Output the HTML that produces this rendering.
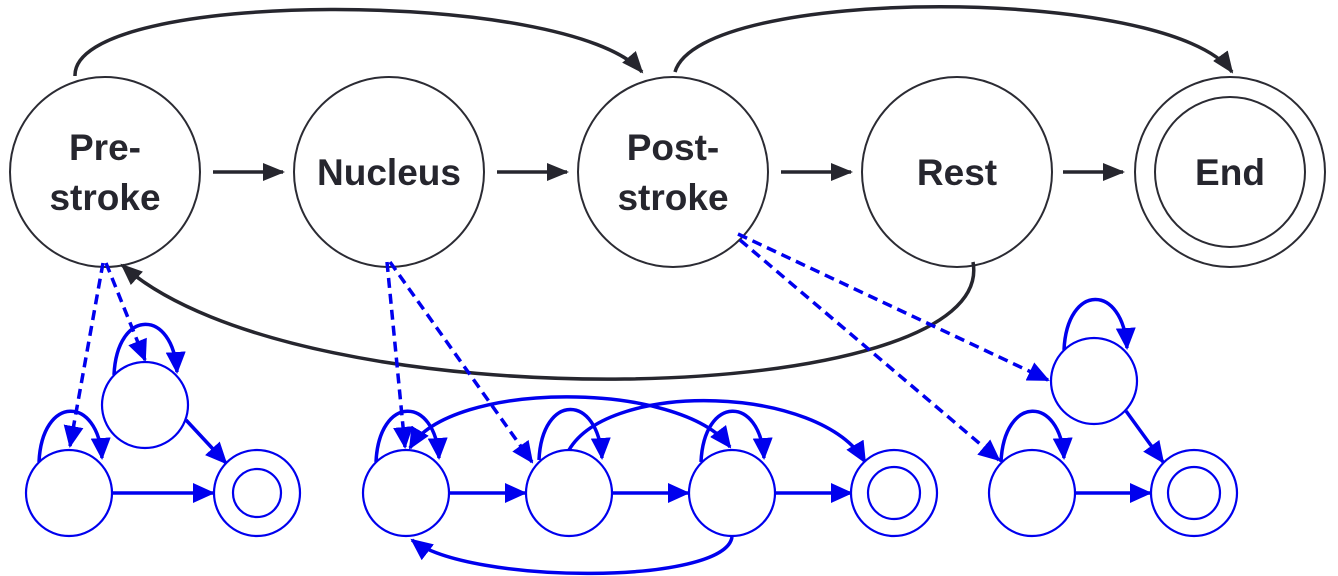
<!DOCTYPE html>
<html><head><meta charset="utf-8"><style>
html,body{margin:0;padding:0;background:#fff;}
svg{display:block;}
text{font-family:"Liberation Sans",Arial,sans-serif;font-weight:bold;font-size:37px;fill:#26262e;text-anchor:middle;}
</style></head><body>
<svg width="1338" height="576" viewBox="0 0 1338 576" xmlns="http://www.w3.org/2000/svg">
<defs>
<marker id="ak2" markerWidth="22" markerHeight="18" refX="20" refY="9" orient="auto" markerUnits="userSpaceOnUse" viewBox="0 0 22 18"><path d="M0,0 L22,9 L0,18 z" fill="#26262e"/></marker>
<marker id="ab" markerWidth="22" markerHeight="20" refX="20" refY="10" orient="auto" markerUnits="userSpaceOnUse" viewBox="0 0 22 20"><path d="M0,0 L22,10 L0,20 z" fill="#0000ee"/></marker>
<marker id="abs" markerWidth="22" markerHeight="20" refX="2" refY="10" orient="auto" markerUnits="userSpaceOnUse" viewBox="0 0 22 20"><path d="M22,0 L0,10 L22,20 z" fill="#0000ee"/></marker>
</defs>
<g fill="#fff" stroke="#2b2b33" stroke-width="2">
<circle cx="105" cy="172" r="95"/>
<circle cx="389" cy="172" r="95"/>
<circle cx="673" cy="172" r="95"/>
<circle cx="957" cy="172" r="95"/>
<circle cx="1230" cy="172" r="95"/>
<circle cx="1230" cy="172" r="75"/>
</g>
<text x="105" y="160">Pre-</text><text x="105" y="210">stroke</text>
<text x="389" y="185">Nucleus</text>
<text x="673" y="160">Post-</text><text x="673" y="210">stroke</text>
<text x="957" y="185">Rest</text>
<text x="1230" y="185">End</text>
<g stroke="#26262e" stroke-width="3.5" fill="none">
<path d="M213,172 H283" marker-end="url(#ak2)"/>
<path d="M497,172 H567" marker-end="url(#ak2)"/>
<path d="M781,172 H851" marker-end="url(#ak2)"/>
<path d="M1063,172 H1123" marker-end="url(#ak2)"/>
<path d="M75,76 C 72,-12 570,-12 642,72" marker-end="url(#ak2)"/>
<path d="M675,72 C 700,-15 1170,-15 1232,72" marker-end="url(#ak2)"/>
<path d="M973,262 C 1000,410 300,425 122,265" marker-end="url(#ak2)"/>
</g>
<g stroke="#0000ee" stroke-width="3.5" fill="none" stroke-dasharray="10,6">
<path d="M103,263 L70,446" marker-end="url(#ab)"/>
<path d="M106,263 L145,360" marker-end="url(#ab)"/>
<path d="M387,262 L405,447" marker-end="url(#ab)"/>
<path d="M390,262 L532,462" marker-end="url(#ab)"/>
<path d="M738,234 L1048,380" marker-end="url(#ab)"/>
<path d="M740,240 L999,460" marker-end="url(#ab)"/>
</g>
<g stroke="#0000ee" stroke-width="3.5" fill="none">
<path d="M39,462 C 42,395 98,395 102,458" marker-end="url(#ab)"/>
<path d="M114,375 C 117,308 173,308 177,372" marker-end="url(#ab)"/>
<path d="M376,462 C 379,395 435,395 439,458" marker-end="url(#ab)"/>
<path d="M539,460 C 542,393 598,393 602,458" marker-end="url(#ab)"/>
<path d="M701,462 C 704,395 760,395 764,458" marker-end="url(#ab)"/>
<path d="M1064,350 C 1067,283 1123,283 1127,348" marker-end="url(#ab)"/>
<path d="M1001,462 C 1004,395 1060,395 1064,458" marker-end="url(#ab)"/>
<path d="M112,493 H213" marker-end="url(#ab)"/>
<path d="M186,420 L226,463" marker-end="url(#ab)"/>
<path d="M449,493 H525" marker-end="url(#ab)"/>
<path d="M612,493 H688" marker-end="url(#ab)"/>
<path d="M775,493 H851" marker-end="url(#ab)"/>
<path d="M1075,493 H1150" marker-end="url(#ab)"/>
<path d="M1126,411 L1163,462" marker-end="url(#ab)"/>
<path d="M410,448 C 450,380 680,380 730,447" marker-start="url(#abs)" marker-end="url(#ab)"/>
<path d="M569,450 C 610,380 820,385 865,462" marker-end="url(#ab)"/>
<path d="M732,537 C 725,585 470,585 412,540" marker-end="url(#ab)"/>
</g>
<g fill="#fff" stroke="#0000ee" stroke-width="2.2">
<circle cx="69" cy="493" r="43"/>
<circle cx="145" cy="405" r="43"/>
<circle cx="257" cy="493" r="43"/><circle cx="257" cy="493" r="24"/>
<circle cx="406" cy="493" r="43"/>
<circle cx="569" cy="493" r="43"/>
<circle cx="732" cy="493" r="43"/>
<circle cx="894" cy="493" r="43"/><circle cx="894" cy="493" r="26"/>
<circle cx="1094" cy="381" r="43"/>
<circle cx="1032" cy="493" r="43"/>
<circle cx="1194" cy="493" r="43"/><circle cx="1194" cy="493" r="26"/>
</g>
</svg>
</body></html>
